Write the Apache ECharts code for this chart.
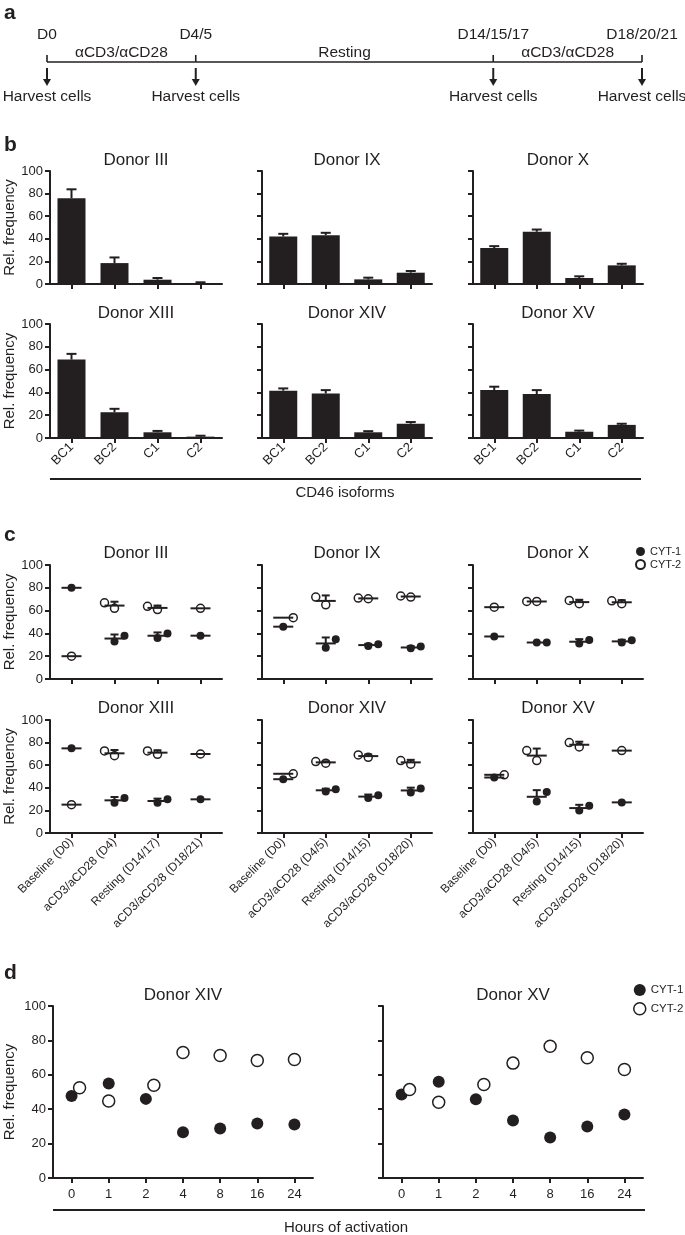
<!DOCTYPE html>
<html style="height: 100%">
<head>
<meta charset="utf-8">
<title>CD46 isoforms and CYT-1 / CYT-2</title>
</head>
<body style="height: 100%; margin: 0; background: #fff">
<div id="container" style="width: 685px; height: 1235px"></div>
<script type="text/javascript" src="https://cdn.jsdelivr.net/npm/echarts@6.0.0/dist/echarts.min.js"></script>
<script type="text/javascript">
// ---- a: protocol timeline
var timePos = [0, 1, 3, 4];
var timeLabels = ['D0', 'D4/5', 'D14/15/17', 'D18/20/21'];
var phaseFrom = [0, 1, 3];
var phaseTo = [1, 3, 4];
var phaseLabels = ['αCD3/αCD28', 'Resting', 'αCD3/αCD28'];

// ---- b: CD46 isoform frequency (mean, SD)
var isoforms = ['BC1', 'BC2', 'C1', 'C2'];
var isoDonors = ['Donor III', 'Donor IX', 'Donor X', 'Donor XIII', 'Donor XIV', 'Donor XV'];
var isoMean = [
    [75.8, 18.5, 3.8, 0.5],
    [42.0, 43.2, 4.1, 10.0],
    [31.8, 46.2, 5.3, 16.5],
    [68.8, 22.6, 5.0, 1.2],
    [41.5, 39.0, 5.0, 12.5],
    [42.0, 38.5, 5.5, 11.5]
];
var isoSd = [
    [8.0, 5.0, 1.5, 1.0],
    [2.4, 2.1, 1.5, 1.5],
    [1.7, 2.0, 1.5, 1.4],
    [5.0, 3.0, 1.2, 0.8],
    [2.0, 3.0, 1.0, 1.5],
    [3.0, 3.5, 1.0, 1.0]
];

// ---- c: CYT-1 / CYT-2 over the protocol, points are [stage, value, slot]
var stagesA = ['Baseline (D0)', 'aCD3/aCD28 (D4)', 'Resting (D14/17)', 'aCD3/aCD28 (D18/21)'];
var stagesB = ['Baseline (D0)', 'aCD3/aCD28 (D4/5)', 'Resting (D14/15)', 'aCD3/aCD28 (D18/20)'];
var stageDonors = ['Donor III', 'Donor IX', 'Donor X', 'Donor XIII', 'Donor XIV', 'Donor XV'];
var cyt1Points = [
    [[0, 80, 0], [1, 33, 0], [1, 38, 1], [2, 35.9, 0], [2, 40, 1], [3, 38, 0]],
    [[0, 45.9, 0], [1, 27.5, 0], [1, 34.9, 1], [2, 29, 0], [2, 30.5, 1], [3, 26.9, 0], [3, 28.4, 1]],
    [[0, 37.3, 0], [1, 32, 0], [1, 32, 1], [2, 31.1, 0], [2, 34.3, 1], [3, 32, 0], [3, 34, 1]],
    [[0, 74.9, 0], [1, 26.8, 0], [1, 31, 1], [2, 26.8, 0], [2, 29.8, 1], [3, 29.8, 0]],
    [[0, 47.6, 0], [1, 36.8, 0], [1, 38.8, 1], [2, 30.9, 0], [2, 33.5, 1], [3, 35.9, 0], [3, 39.4, 1]],
    [[0, 49.1, 0], [1, 27.9, 0], [1, 36.2, 1], [2, 20, 0], [2, 24.1, 1], [3, 27.1, 0]]
];
var cyt2Points = [
    [[0, 20, 0], [1, 66.8, -1], [1, 62, 0], [2, 63.8, -1], [2, 60.9, 0], [3, 62, 0]],
    [[0, 53.8, 1], [1, 71.9, -1], [1, 65.1, 0], [2, 71, -1], [2, 70.4, 0], [3, 72.8, -1], [3, 71.9, 0]],
    [[0, 63, 0], [1, 68, -1], [1, 68, 0], [2, 68.9, -1], [2, 66, 0], [3, 68.6, -1], [3, 66, 0]],
    [[0, 25.1, 0], [1, 72.6, -1], [1, 68.4, 0], [2, 72.6, -1], [2, 69.6, 0], [3, 69.9, 0]],
    [[0, 52.4, 1], [1, 63.2, -1], [1, 61.8, 0], [2, 69.1, -1], [2, 67, 0], [3, 64.1, -1], [3, 60.9, 0]],
    [[0, 51.5, 1], [1, 72.9, -1], [1, 64.1, 0], [2, 80, -1], [2, 76.2, 0], [3, 72.9, 0]]
];

// ---- d: hours of activation
var hours = ['0', '1', '2', '4', '8', '16', '24'];
var actDonors = ['Donor XIV', 'Donor XV'];
var actCyt1 = [
    [47.7, 55, 46, 26.6, 28.8, 31.7, 31.1],
    [48.6, 56, 45.8, 33.4, 23.6, 29.9, 36.9]
];
var actCyt2 = [
    [52.5, 44.8, 53.9, 73, 71.2, 68.3, 68.9],
    [51.4, 44, 54.4, 66.8, 76.6, 69.9, 63.1]
];
var actCyt2Slot = [1, 0, 1, 0, 0, 0, 0];

var ink = '#231f20';
var font = '"Liberation Sans", Arial, sans-serif';

var dom = document.getElementById('container');
var myChart = echarts.init(dom);

var grids = [], xAxes = [], yAxes = [], series = [], graphics = [];

function addGrid(x, y, w, h, cats, showX, showY, xFont, rotate, nameGap) {
    var i = grids.length;
    grids.push({ left: x, top: y, width: w, height: h, containLabel: false, outerBoundsMode: 'none' });
    xAxes.push({
        gridIndex: i, type: 'category', data: cats, boundaryGap: true,
        axisLine: { show: true, lineStyle: { color: ink, width: 2 } },
        axisTick: { show: true, alignWithLabel: true, length: 5, lineStyle: { color: ink, width: 2 } },
        axisLabel: { show: showX, interval: 0, rotate: rotate, fontSize: xFont, color: ink, fontFamily: font, margin: rotate ? 7 : 10 },
        splitLine: { show: false }
    });
    yAxes.push({
        gridIndex: i, type: 'value', min: 0, max: 100, interval: 20,
        name: showY ? 'Rel. frequency' : '', nameLocation: 'middle', nameGap: nameGap,
        nameTextStyle: { fontSize: 15, color: ink, fontFamily: font },
        axisLine: { show: true, lineStyle: { color: ink, width: 2 } },
        axisTick: { show: true, length: 5, lineStyle: { color: ink, width: 2 } },
        axisLabel: { show: showY, fontSize: 13, color: ink, fontFamily: font, margin: 7 },
        splitLine: { show: false }
    });
    return i;
}

function addText(text, x, y, size, opts) {
    opts = opts || {};
    graphics.push({
        type: 'text', x: x, y: y, silent: true,
        style: {
            text: text, fill: ink, fontSize: size, fontFamily: font,
            fontWeight: opts.bold ? 'bold' : 'normal',
            align: opts.align || 'center', verticalAlign: 'middle'
        }
    });
}

function addRule(x1, x2, y) {
    graphics.push({ type: 'line', silent: true, shape: { x1: x1, y1: y, x2: x2, y2: y }, style: { stroke: ink, lineWidth: 2 } });
}

function renderSdBar(params, api) {
    var base = api.coord([api.value(0), api.value(1)]);
    var top = api.coord([api.value(0), api.value(1) + api.value(2)]);
    var st = { stroke: ink, lineWidth: 2 };
    return {
        type: 'group', children: [
            { type: 'line', shape: { x1: base[0], y1: base[1], x2: top[0], y2: top[1] }, style: st },
            { type: 'line', shape: { x1: top[0] - 5, y1: top[1], x2: top[0] + 5, y2: top[1] }, style: st }
        ]
    };
}

function renderMeanSd(params, api) {
    var mean = api.coord([api.value(0), api.value(1)]);
    var top = api.coord([api.value(0), api.value(1) + api.value(2)]);
    var st = { stroke: ink, lineWidth: 2 };
    var kids = [{ type: 'line', shape: { x1: mean[0] - 10, y1: mean[1], x2: mean[0] + 10, y2: mean[1] }, style: st }];
    if (mean[1] - top[1] > 1) {
        kids.push({ type: 'line', shape: { x1: mean[0], y1: mean[1], x2: top[0], y2: top[1] }, style: st });
        kids.push({ type: 'line', shape: { x1: top[0] - 4, y1: top[1], x2: top[0] + 4, y2: top[1] }, style: st });
    }
    return { type: 'group', children: kids };
}

// mean and sample SD of replicate points per stage
function summarize(points) {
    var groups = {};
    points.forEach(function (p) { (groups[p[0]] = groups[p[0]] || []).push(p[1]); });
    return Object.keys(groups).map(function (k) {
        var v = groups[k], n = v.length;
        var m = v.reduce(function (a, b) { return a + b; }, 0) / n;
        var sd = n > 1 ? Math.sqrt(v.reduce(function (a, b) { return a + (b - m) * (b - m); }, 0) / (n - 1)) : 0;
        return [+k, m, sd];
    });
}

function dotSeries(name, g, points, filled, size, step) {
    return {
        name: name, type: 'scatter', xAxisIndex: g, yAxisIndex: g, symbol: 'circle', symbolSize: size,
        silent: true, z: 3,
        itemStyle: filled ? { color: ink, opacity: 1 } : { color: '#fff', borderColor: ink, borderWidth: 1.5, opacity: 1 },
        data: points.map(function (p) { return { value: [p[0], p[1]], symbolOffset: [p[2] * step, 0] }; })
    };
}

var cols = [{ x: 50, w: 172 }, { x: 262, w: 170 }, { x: 473, w: 170 }];
var bRows = [{ y: 171, h: 113 }, { y: 324, h: 114 }];
var cRows = [{ y: 565, h: 114 }, { y: 720, h: 113 }];
var dCols = [{ x: 53, w: 260 }, { x: 383, w: 260 }];
var dRow = { y: 1006, h: 172 };

// panel b
isoDonors.forEach(function (name, d) {
    var c = cols[d % 3], r = bRows[Math.floor(d / 3)];
    var g = addGrid(c.x, r.y, c.w, r.h, isoforms, d >= 3, d % 3 === 0, 13, 45, 33);
    series.push({ type: 'bar', xAxisIndex: g, yAxisIndex: g, data: isoMean[d], barWidth: 28, silent: true, itemStyle: { color: ink } });
    series.push({
        type: 'custom', xAxisIndex: g, yAxisIndex: g, z: 3, silent: true, renderItem: renderSdBar,
        data: isoMean[d].map(function (m, i) { return [i, m, isoSd[d][i]]; })
    });
    addText(name, c.x + c.w / 2, r.y - 11, 17);
});

// panel c
stageDonors.forEach(function (name, d) {
    var c = cols[d % 3], r = cRows[Math.floor(d / 3)];
    var g = addGrid(c.x, r.y, c.w, r.h, d % 3 === 0 ? stagesA : stagesB, d >= 3, d % 3 === 0, 12, 45, 33);
    series.push(dotSeries('CYT-1', g, cyt1Points[d], true, 8, 10));
    series.push(dotSeries('CYT-2', g, cyt2Points[d], false, 8, 10));
    series.push({
        type: 'custom', xAxisIndex: g, yAxisIndex: g, z: 4, silent: true, renderItem: renderMeanSd,
        data: summarize(cyt1Points[d]).concat(summarize(cyt2Points[d]))
    });
    addText(name, c.x + c.w / 2, r.y - 12, 17);
});

// panel d
actDonors.forEach(function (name, d) {
    var c = dCols[d];
    var g = addGrid(c.x, dRow.y, c.w, dRow.h, hours, true, d === 0, 13, 0, 36);
    series.push(dotSeries('CYT-1', g, actCyt1[d].map(function (v, i) { return [i, v, 0]; }), true, 12, 8));
    series.push(dotSeries('CYT-2', g, actCyt2[d].map(function (v, i) { return [i, v, actCyt2Slot[i]]; }), false, 12, 8));
    addText(name, c.x + c.w / 2, dRow.y - 11, 17);
});

// panel a: timeline on its own hidden value axis
var tg = grids.length;
grids.push({ left: 47, top: 40, width: 595, height: 22, containLabel: false, outerBoundsMode: 'none' });
xAxes.push({ gridIndex: tg, type: 'value', min: 0, max: 4, show: false });
yAxes.push({ gridIndex: tg, type: 'value', min: 0, max: 1, show: false });
series.push({
    type: 'custom', xAxisIndex: tg, yAxisIndex: tg, silent: true,
    data: phaseFrom.map(function (f, i) { return [f, phaseTo[i]]; }),
    encode: { x: [0, 1] },
    renderItem: function (params, api) {
        var a = api.coord([api.value(0), 0]);
        var b = api.coord([api.value(1), 0]);
        return {
            type: 'group', children: [
                { type: 'line', shape: { x1: a[0], y1: a[1], x2: b[0], y2: b[1] }, style: { stroke: ink, lineWidth: 1.6 } },
                { type: 'text', x: (a[0] + b[0]) / 2, y: a[1] - 9, style: { text: phaseLabels[params.dataIndex], fill: ink, fontSize: 15.5, fontFamily: font, align: 'center', verticalAlign: 'middle' } }
            ]
        };
    }
});
series.push({
    type: 'custom', xAxisIndex: tg, yAxisIndex: tg, silent: true,
    data: timePos.map(function (p) { return [p, 0]; }),
    renderItem: function (params, api) {
        var p = api.coord([api.value(0), 0]);
        var x = p[0], y = p[1];
        var txt = { fill: ink, fontSize: 15.5, fontFamily: font, align: 'center', verticalAlign: 'middle' };
        return {
            type: 'group', children: [
                { type: 'line', shape: { x1: x, y1: y, x2: x, y2: y - 7 }, style: { stroke: ink, lineWidth: 1.6 } },
                { type: 'text', x: x, y: y - 27, style: echarts.util.extend({ text: timeLabels[params.dataIndex] }, txt) },
                { type: 'line', shape: { x1: x, y1: y + 6, x2: x, y2: y + 18 }, style: { stroke: ink, lineWidth: 2 } },
                { type: 'polygon', shape: { points: [[x - 4, y + 17], [x + 4, y + 17], [x, y + 24]] }, style: { fill: ink } },
                { type: 'text', x: x, y: y + 35, style: echarts.util.extend({ text: 'Harvest cells' }, txt) }
            ]
        };
    }
});

// panel letters and group captions
addText('a', 4, 13, 21, { bold: true, align: 'left' });
addText('b', 4, 145, 21, { bold: true, align: 'left' });
addText('c', 4, 535, 21, { bold: true, align: 'left' });
addText('d', 4, 973, 21, { bold: true, align: 'left' });
addRule(50, 641, 479);
addText('CD46 isoforms', 345, 493, 15);
addRule(53, 645, 1210);
addText('Hours of activation', 346, 1228, 15);

var option = {
    backgroundColor: '#fff',
    animation: false,
    grid: grids,
    xAxis: xAxes,
    yAxis: yAxes,
    legend: [
        {
            data: ['CYT-1', 'CYT-2'], orient: 'vertical', left: 635, top: 546, padding: 0,
            itemWidth: 9, itemHeight: 9, itemGap: 2, icon: 'circle', selectedMode: false,
            textStyle: { fontSize: 11, color: ink, fontFamily: font, width: 50, overflow: 'none' }
        },
        {
            data: ['CYT-1', 'CYT-2'], orient: 'vertical', left: 633, top: 984, padding: 0,
            itemWidth: 12, itemHeight: 12, itemGap: 6, itemStyle: { borderWidth: 1.5 }, icon: 'circle', selectedMode: false,
            textStyle: { fontSize: 11.5, color: ink, fontFamily: font, width: 50, overflow: 'none' }
        }
    ],
    graphic: graphics,
    series: series
};

if (option && typeof option === 'object') {
    myChart.setOption(option);
}
window.onresize = function () {
    myChart.resize();
};
</script>
</body>
</html>
